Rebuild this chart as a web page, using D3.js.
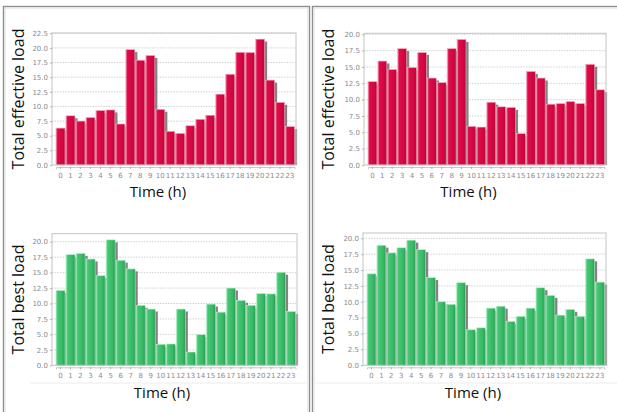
<!DOCTYPE html>
<html>
<head>
<meta charset="utf-8">
<script src="https://cdn.jsdelivr.net/npm/d3@7"></script>
<style>
  body { margin: 0; background: #fff; }
  svg { display: block; }
  .tick text { font-family: "DejaVu Sans", sans-serif; font-size: 7px; fill: #8a8a8a; }
  .tick line { stroke: #9a9a9a; stroke-width: 0.7; }
  .title { font-family: "Open Sans", sans-serif; font-size: 15px; fill: #111; }
  .ytitle { font-size: 16px; }
</style>
</head>
<body>
<svg id="chart" width="617" height="412"></svg>
<script>
const hours = ["0", "1", "2", "3", "4", "5", "6", "7", "8", "9", "10", "11",
  "12", "13", "14", "15", "16", "17", "18", "19", "20", "21", "22", "23"];

// hourly totals
const effectiveLeft = [6.3, 8.4, 7.5, 8.1, 9.3, 9.4, 7.0, 19.7, 17.9, 18.7, 9.5, 5.75,
  5.4, 6.7, 7.8, 8.5, 12.1, 15.5, 19.25, 19.2, 21.5, 14.5, 10.7, 6.55];
const effectiveRight = [12.75, 15.9, 14.6, 17.8, 14.9, 17.2, 13.3, 12.6, 17.8, 19.2, 5.9, 5.8,
  9.6, 8.9, 8.8, 4.8, 14.3, 13.3, 9.3, 9.4, 9.7, 9.4, 15.4, 11.5];
const bestLeft = [12.1, 17.9, 18.1, 17.2, 14.5, 20.3, 17.0, 15.6, 9.7, 9.1, 3.4, 3.45,
  9.1, 2.15, 4.95, 9.9, 8.6, 12.5, 10.5, 9.7, 11.6, 11.55, 15.05, 8.7];
const bestRight = [14.4, 18.9, 17.7, 18.5, 19.7, 18.2, 13.8, 10.0, 9.6, 13.0, 5.6, 5.9,
  9.0, 9.3, 6.9, 7.7, 9.0, 12.2, 11.0, 7.9, 8.8, 7.7, 16.75, 13.1];

const ticksTo225 = [0, 2.5, 5, 7.5, 10, 12.5, 15, 17.5, 20, 22.5];
const ticksTo20 = [0, 2.5, 5, 7.5, 10, 12.5, 15, 17.5, 20];

const svg = d3.select('#chart');
const defs = svg.append('defs');

// bar gradients
const grads = {
  red: ['#f2829e', '#dc0c4c', '#d4063f', '#b9053a'],
  green: ['#8ae4aa', '#45c774', '#37b865', '#2a9d55']
};
Object.entries(grads).forEach(([name, stops]) => {
  const g = defs.append('linearGradient').attr('id', `grad-${name}`)
    .attr('x1', 0).attr('x2', 1).attr('y1', 0).attr('y2', 0);
  [0, 0.18, 0.7, 1].forEach((o, i) => g.append('stop').attr('offset', o).attr('stop-color', stops[i]));
});

// panel frames
svg.append('rect').attr('x', 3.5).attr('y', 6.5).attr('width', 306).attr('height', 420)
  .attr('fill', 'none').attr('stroke', '#8e8e8e').attr('stroke-width', 1.4);
svg.append('rect').attr('x', 5.2).attr('y', 8.2).attr('width', 302.6).attr('height', 420)
  .attr('fill', 'none').attr('stroke', '#e2e2e2').attr('stroke-width', 0.8);
svg.append('rect').attr('x', 312.5).attr('y', 6.5).attr('width', 320).attr('height', 420)
  .attr('fill', 'none').attr('stroke', '#8e8e8e').attr('stroke-width', 1.4);
svg.append('rect').attr('x', 314.2).attr('y', 8.2).attr('width', 320).attr('height', 420)
  .attr('fill', 'none').attr('stroke', '#e2e2e2').attr('stroke-width', 0.8);
// faint pasted-image seam under the lower charts
[[30, 309], [316, 617]].forEach(([a, b]) => svg.append('line')
  .attr('x1', a).attr('x2', b).attr('y1', 383).attr('y2', 383)
  .attr('stroke', '#ececec').attr('stroke-width', 1));

const panels = [
  { values: effectiveLeft, ticks: ticksTo225, yMax: 22.55, color: 'red', yTitle: 'Total effective load',
    left: 52, right: 296, top: 33, bottom: 165, yTitleX: 24, timeX: 158, timeY: 197 },
  { values: effectiveRight, ticks: ticksTo20, yMax: 20.15, color: 'red', yTitle: 'Total effective load',
    left: 364, right: 606, top: 33.3, bottom: 165, yTitleX: 333.7, timeX: 468.5, timeY: 197 },
  { values: bestLeft, ticks: ticksTo20, yMax: 21.3, color: 'green', yTitle: 'Total best load',
    left: 52, right: 297, top: 233.7, bottom: 365.3, yTitleX: 23.5, timeX: 162, timeY: 398 },
  { values: bestRight, ticks: ticksTo20, yMax: 20.83, color: 'green', yTitle: 'Total best load',
    left: 363, right: 606, top: 233, bottom: 365.3, yTitleX: 333.5, timeX: 473, timeY: 398 }
];

panels.forEach(p => drawPanel(p));

function drawPanel(p) {
  const g = svg.append('g');
  const x = d3.scaleBand().domain(hours).range([p.left + 4, p.right - 1.5])
    .paddingInner(0.1).paddingOuter(0);
  const y = d3.scaleLinear().domain([0, p.yMax]).range([p.bottom, p.top]);

  // plot background + grid
  g.append('rect').attr('x', p.left).attr('y', p.top)
    .attr('width', p.right - p.left).attr('height', p.bottom - p.top).attr('fill', '#fff');
  g.append('g').selectAll('line')
    .data(p.ticks.filter(t => t > 0))
    .join('line')
    .attr('x1', p.left).attr('x2', p.right)
    .attr('y1', d => y(d)).attr('y2', d => y(d))
    .attr('stroke', '#bdbdbd').attr('stroke-width', 0.7)
    .attr('stroke-dasharray', '1.5,1.2');

  const data = hours.map((h, i) => ({ h, v: p.values[i] }));

  // shadows first, so the next bar covers them
  g.append('g').selectAll('rect')
    .data(data)
    .join('rect')
    .attr('x', d => x(d.h) + 2.6)
    .attr('y', d => y(d.v) + 2.4)
    .attr('width', x.bandwidth())
    .attr('height', d => Math.max(0, p.bottom - y(d.v) - 2.4))
    .attr('fill', '#767676').attr('opacity', 0.9);

  g.append('g').selectAll('rect')
    .data(data)
    .join('rect')
    .attr('x', d => x(d.h))
    .attr('y', d => y(d.v))
    .attr('width', x.bandwidth())
    .attr('height', d => p.bottom - y(d.v))
    .attr('fill', `url(#grad-${p.color})`)
    .attr('stroke', p.color === 'red' ? '#f4a6ba' : '#b8ecc9')
    .attr('stroke-width', 0.6);

  // plot frame
  g.append('rect').attr('x', p.left).attr('y', p.top)
    .attr('width', p.right - p.left).attr('height', p.bottom - p.top)
    .attr('fill', 'none').attr('stroke', '#c4c4c4').attr('stroke-width', 1);

  // axes
  const yAxis = g.append('g').attr('transform', `translate(${p.left},0)`)
    .call(d3.axisLeft(y).tickValues(p.ticks).tickFormat(d3.format('.1f')).tickSize(2).tickPadding(2));
  yAxis.select('.domain').remove();

  const xAxis = g.append('g').attr('transform', `translate(0,${p.bottom + 2})`)
    .call(d3.axisBottom(x).tickSize(2).tickPadding(4));
  xAxis.select('.domain').attr('stroke', '#b0b0b0').attr('stroke-width', 0.7);

  // titles
  g.append('text').attr('class', 'title ytitle')
    .attr('transform', `translate(${p.yTitleX},${(p.top + p.bottom) / 2}) rotate(-90)`)
    .attr('text-anchor', 'middle')
    .text(p.yTitle);
  g.append('text').attr('class', 'title')
    .attr('x', p.timeX).attr('y', p.timeY)
    .attr('text-anchor', 'middle')
    .text('Time (h)');
}
</script>
</body>
</html>
